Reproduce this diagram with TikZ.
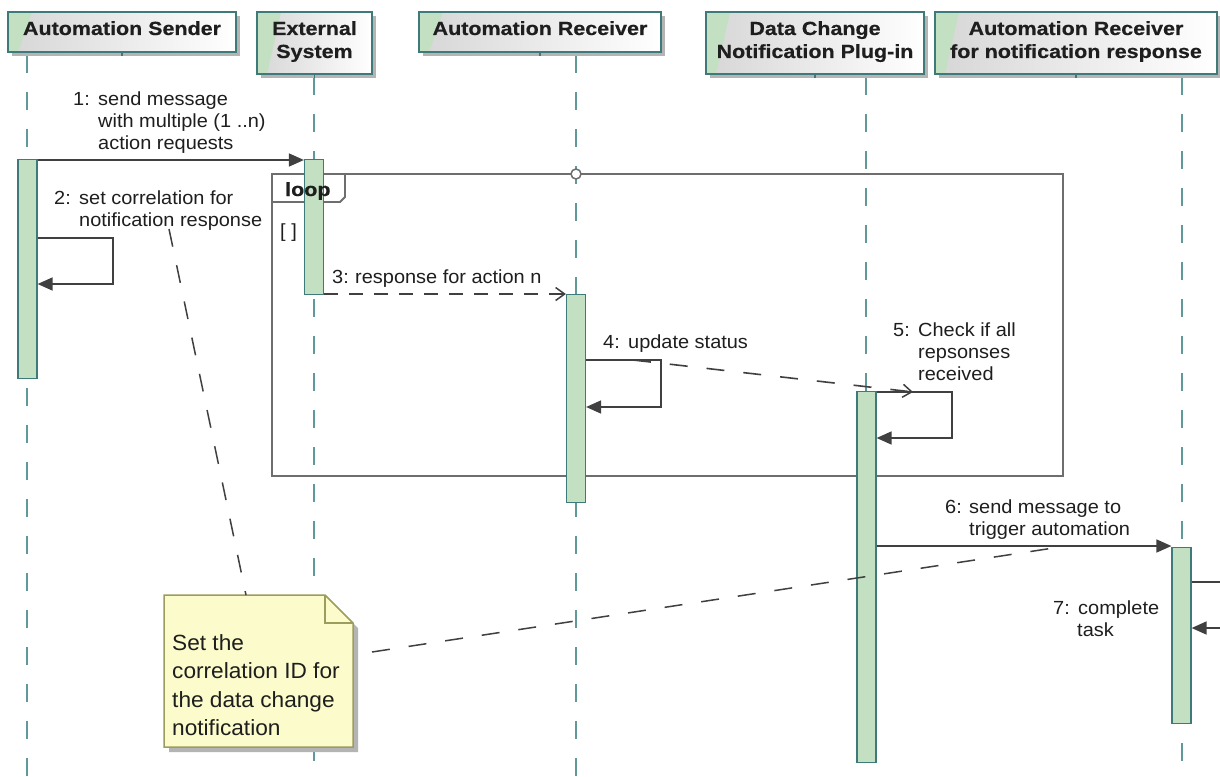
\documentclass[tikz,border=0pt]{standalone}
\usepackage{fontspec}
\setmainfont{Liberation Sans}
\newfontfamily\lblfont[FakeStretch=1.05]{Liberation Sans}
\newfontfamily\hdrfont[FakeStretch=1.13,BoldFeatures={FakeBold=0.5}]{Liberation Sans}
\newfontfamily\notefont[FakeStretch=1.03]{Liberation Sans}
\usetikzlibrary{arrows.meta}
\definecolor{lifeteal}{HTML}{5F9999}
\definecolor{boxedge}{HTML}{3F7A7A}
\definecolor{barfill}{HTML}{C3E0C3}
\definecolor{msggray}{HTML}{404040}
\definecolor{framegray}{HTML}{6E6E6E}
\definecolor{notefill}{HTML}{FBFBCB}
\definecolor{noteedge}{HTML}{9C9C5C}
\definecolor{shadowgray}{HTML}{B4B4B4}
\definecolor{headgray}{HTML}{D6D6D6}
\definecolor{txt}{HTML}{1E1E1E}
\newcommand\mkhead[5]{%
  \fill[shadowgray] (#2+4,#3+4) rectangle (#4+4,#5+4);
  \shade[left color=headgray, right color=white] (#2,#3) rectangle (#4,#5);
  \fill[barfill] (#2,#3) -- (#2+24,#3) -- (#2+10,#5) -- (#2,#5) -- cycle;
  \node[headbox, minimum width=#4-#2, minimum height=#5-#3] (#1) at ({(#2+#4)/2},{(#3+#5)/2}) {};
  \draw[boxedge, line width=1.5pt] (#1.south) -- ++(0,3);
}
\begin{document}
\begin{tikzpicture}[x=1pt,y=-1pt,
  headbox/.style={draw=boxedge, line width=1.5pt, inner sep=0pt},
  lifeline/.style={draw=lifeteal, line width=2pt, dash pattern=on 18pt off 19pt},
  bar/.style={draw=boxedge, fill=barfill, line width=1.2pt, minimum width=19pt, inner sep=0pt, anchor=north},
  msg/.style={draw=msggray, line width=1.6pt, -{Triangle[length=15pt,width=13pt]}},
  rmsg/.style={draw=msggray, line width=1.6pt, dash pattern=on 14pt off 11pt, -{Straight Barb[length=9pt,width=13pt,line width=1.5pt]}},
  anchorline/.style={draw=msggray, line width=1.5pt, dash pattern=on 18pt off 19pt},
  lbl/.style={anchor=base west, inner sep=0pt, text=txt, font=\lblfont\fontsize{19}{22}\selectfont},
  hdr/.style={anchor=base, inner sep=0pt, text=txt, font=\hdrfont\bfseries\fontsize{19}{23}\selectfont},
  notetxt/.style={anchor=base west, inner sep=0pt, text=txt, font=\notefont\fontsize{22}{28}\selectfont},
  frameline/.style={draw=framegray, line width=1.8pt}]
\useasboundingbox (0,0) rectangle (1220,776);
\fill[white] (0,0) rectangle (1220,776);
\begin{scope}
\clip (0,0) rectangle (1220,776);
% lifelines
\draw[lifeline] (27,55) -- (27,776);
\draw[lifeline] (314,77) -- (314,776);
\draw[lifeline] (576,55) -- (576,776);
\draw[lifeline] (866,77) -- (866,776);
\draw[lifeline] (1182,77) -- (1182,776);
% loop frame
\draw[frameline] (272,174) rectangle (1063,476);
\draw[frameline] (272,202) -- (340,202) -- (345,197) -- (345,174);
\node[circle, draw=framegray, fill=white, line width=1.5pt, minimum size=10pt, inner sep=0pt] (gate) at (576,174) {};
% activation bars
\node[bar, minimum height=219pt] (barS) at (27.5,159) {};
\node[bar, minimum height=135pt] (barE) at (314,159) {};
\node[bar, minimum height=208pt] (barR) at (576,294) {};
\node[bar, minimum height=371pt] (barP) at (866.5,391) {};
\node[bar, minimum height=176pt] (barN) at (1181.5,547) {};
\node[hdr, anchor=base west] (looplbl) at (285,196) {loop};
\node[lbl] (guard) at (280,237) {[ ]};
% message end points
\coordinate (m1a) at (barS.east |- 0,160);
\coordinate (m1b) at (barE.west |- 0,160);
\coordinate (m2a) at (barS.east |- 0,238);
\coordinate (m2b) at (113,238);
\coordinate (m2c) at (113,284);
\coordinate (m2d) at (barS.east |- 0,284);
\coordinate (m3a) at (barE.east |- 0,294);
\coordinate (m3b) at (barR.west |- 0,294);
\coordinate (m4a) at (barR.east |- 0,360);
\coordinate (m4b) at (661,360);
\coordinate (m4c) at (661,407);
\coordinate (m4d) at (barR.east |- 0,407);
\coordinate (m5a) at (barP.east |- 0,392);
\coordinate (m5b) at (952,392);
\coordinate (m5c) at (952,438);
\coordinate (m5d) at (barP.east |- 0,438);
\coordinate (m6a) at (barP.east |- 0,546);
\coordinate (m6b) at (barN.west |- 0,546);
\coordinate (m7a) at (barN.east |- 0,582);
\coordinate (m7b) at (1235,582);
\coordinate (m7c) at (1235,628);
\coordinate (m7d) at (barN.east |- 0,628);
\coordinate (dx1) at (633,360);
\coordinate (dx2) at (913,392);
% messages
\draw[msg] (m1a) -- (m1b);
\draw[msg] (m2a) -- (m2b) -- (m2c) -- (m2d);
\draw[rmsg] (m3a) -- (m3b);
\draw[msg] (m4a) -- (m4b) -- (m4c) -- (m4d);
\draw[msg] (m5a) -- (m5b) -- (m5c) -- (m5d);
\draw[rmsg, dash pattern=on 18pt off 19pt] (dx1) -- (dx2);
\draw[msg] (m6a) -- (m6b);
\draw[msg] (m7a) -- (m7b) -- (m7c) -- (m7d);
% note
\coordinate (na1) at (169,229);
\coordinate (nb2) at (1060,547);
\fill[shadowgray] (169,600) -- (330,600) -- (358,628) -- (358,752) -- (169,752) -- cycle;
\draw[noteedge, fill=notefill, line width=1.5pt] (164,595) -- (325,595) -- (353,623) -- (353,747) -- (164,747) -- cycle;
\draw[noteedge, line width=1.5pt] (325,595) -- (325,623) -- (353,623);
\coordinate (note) at (164,595);
\coordinate (nt) at (246,595);
\coordinate (nr) at (372,652);
\draw[anchorline] (na1) -- (nt);
\draw[anchorline] (nr) -- (nb2);
\node[notetxt] (n1) at (172,650) {Set the};
\node[notetxt] (n2) at (172,678) {correlation ID for};
\node[notetxt] (n3) at (172,707) {the data change};
\node[notetxt] (n4) at (172,735) {notification};
% headers
\mkhead{hS}{8}{12}{236}{52}
\mkhead{hE}{257}{12}{372}{74}
\mkhead{hR}{419}{12}{661}{52}
\mkhead{hP}{706}{12}{924}{74}
\mkhead{hN}{935}{12}{1217}{74}
\node[hdr] (tS) at (122,35) {Automation Sender};
\node[hdr] (tE1) at (314.5,35) {External};
\node[hdr] (tE2) at (314.5,58) {System};
\node[hdr] (tR) at (540,35) {Automation Receiver};
\node[hdr] (tP1) at (815,35) {Data Change};
\node[hdr] (tP2) at (815,58) {Notification Plug-in};
\node[hdr] (tN1) at (1076,35) {Automation Receiver};
\node[hdr] (tN2) at (1076,58) {for notification response};
% labels
\node[lbl] (l1n) at (73,105) {1:};
\node[lbl] (l1a) at (98,105) {send message};
\node[lbl] (l1b) at (98,127) {with multiple (1 ..n)};
\node[lbl] (l1c) at (98,149) {action requests};
\node[lbl] (l2n) at (54,204) {2:};
\node[lbl] (l2a) at (79,204) {set correlation for};
\node[lbl] (l2b) at (79,226) {notification response};
\node[lbl] (l3n) at (332,283) {3:};
\node[lbl] (l3a) at (355,283) {response for action n};
\node[lbl] (l4n) at (603,348) {4:};
\node[lbl] (l4a) at (628,348) {update status};
\node[lbl] (l5n) at (893,336) {5:};
\node[lbl] (l5a) at (918,336) {Check if all};
\node[lbl] (l5b) at (918,358) {repsonses};
\node[lbl] (l5c) at (918,380) {received};
\node[lbl] (l6n) at (945,513) {6:};
\node[lbl] (l6a) at (969,513) {send message to};
\node[lbl] (l6b) at (969,535) {trigger automation};
\node[lbl] (l7n) at (1053,614) {7:};
\node[lbl] (l7a) at (1078,614) {complete};
\node[lbl] (l7b) at (1077,636) {task};
\end{scope}
\end{tikzpicture}
\end{document}
